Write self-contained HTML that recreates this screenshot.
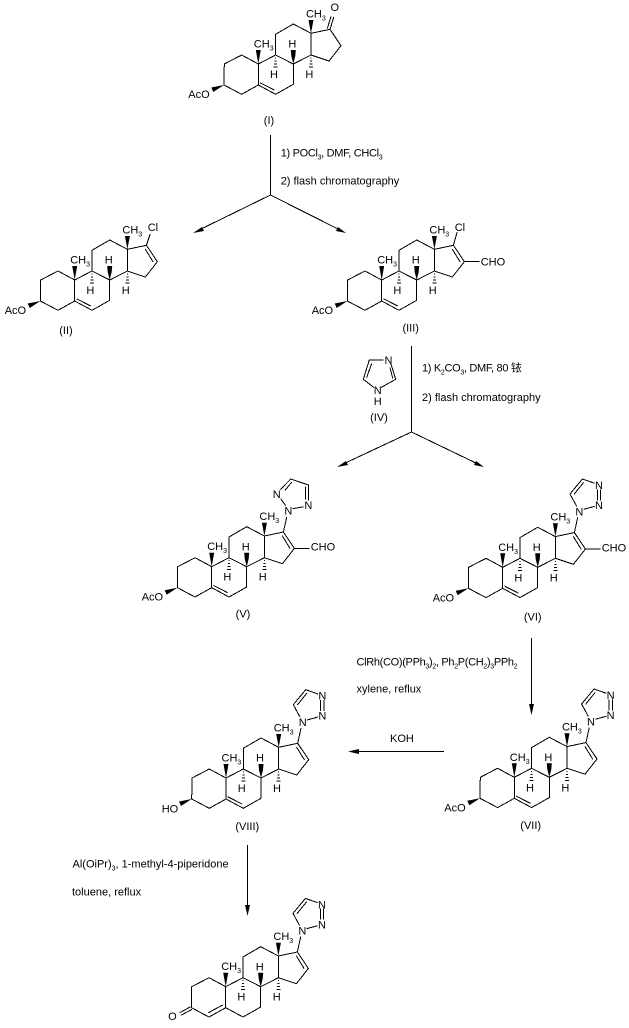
<!DOCTYPE html>
<html><head><meta charset="utf-8"><style>
html,body{margin:0;padding:0;background:#fff}
svg{display:block}
text{font-family:"Liberation Sans","Noto Sans CJK SC",sans-serif;font-size:11px;fill:#000;stroke:none}
.s{font-size:7px}
.m{text-anchor:middle}
.t{letter-spacing:-.32px}
.l{fill:none;stroke:#000;stroke-width:1;shape-rendering:crispEdges}
</style></head><body>
<svg xmlns="http://www.w3.org/2000/svg" width="629" height="1028" viewBox="0 0 629 1028">
<rect width="629" height="1028" fill="#fff"/>
<defs>
<g id="sk">
<path class="l" d="M-34.3,21L-34,0L-16.7,-9L0,0L0,21L-16.7,30.3Z M0,21L17.3,30.3L35,20.3L35,0L17.3,-9L0,0 M17.3,-9L17.3,-29.7L35,-40L52.7,-30.7L52.7,-9L35,0 M52.7,-30.7L71.7,-34.7L82.7,-18.3L70.7,-3L52.7,-9"/>
<path d="M0,0L-2.5,-14L2.5,-14Z M52.7,-30.7L50.2,-44L55.2,-44Z M35,0L33,-8L32.5,-14L37.5,-14L37,-8Z"/>
<path class="l" d="M16.8,-6H17.8 M16.3,-3H18.3 M15.8,0H18.8 M15.3,3H19.3 M52.2,-6H53.2 M51.7,-3H53.7 M51.2,0H54.2 M50.7,3H54.7"/>
</g>
<g id="db"><path class="l" d="M1.7,18.7L16,26"/></g>
<path id="oac" d="M-34.3,21L-47,23.5L-45,28Z"/>
<path id="d17" class="l" d="M70.5,-31L78.5,-18"/>
</defs>

<!-- arrows -->
<path class="l" d="M270.5,135V195L197,231 M270.5,195L342,231 M411.5,346V432L341,465 M411.5,432L480,465 M531.5,638V706 M444,751.5H356 M247.5,845V906"/>
<path d="M193,233L202,227L204,231Z M346,233L336,231L338,227Z M337,467L346,461L348,465Z M484,467L474,465L476,461Z M531.5,715L529,704L534,704Z M348,751.5L359,749V754Z M247.5,916L245,905L250,905Z"/>

<!-- I -->
<g transform="translate(258.3,64)">
<use href="#sk"/><use href="#db"/><use href="#oac"/>
<path class="l" d="M71.7,-34.7L75.5,-47 M69,-35.5L72.7,-47.5"/>
<text x="-4.5" y="-16.5">CH<tspan class="s" dy="3">3</tspan></text>
<text x="47.7" y="-46.7">CH<tspan class="s" dy="3">3</tspan></text>
<text class="m" x="34" y="-16.3">H</text><text class="m" x="15.7" y="14">H</text><text class="m" x="51" y="14">H</text>
<text x="-70" y="34">AcO</text>
<text class="m" x="76.5" y="-53">O</text>
</g>
<text class="m" x="269" y="124">(I)</text>

<!-- II -->
<g transform="translate(74.7,280)">
<use href="#sk"/><use href="#db"/><use href="#oac"/><use href="#d17"/>
<path class="l" d="M71.7,-34.7L75.5,-46"/>
<text x="-4.5" y="-16.5">CH<tspan class="s" dy="3">3</tspan></text>
<text x="47.7" y="-46.7">CH<tspan class="s" dy="3">3</tspan></text>
<text class="m" x="34" y="-16.3">H</text><text class="m" x="15.7" y="14">H</text><text class="m" x="51" y="14">H</text>
<text x="-70" y="34">AcO</text>
<text x="73" y="-49">Cl</text>
</g>
<text class="m" x="66" y="334">(II)</text>

<!-- III -->
<g transform="translate(381.7,280)">
<use href="#sk"/><use href="#db"/><use href="#oac"/><use href="#d17"/>
<path class="l" d="M71.7,-34.7L75.5,-48 M82.7,-18.3H98"/>
<text x="-4.5" y="-16.5">CH<tspan class="s" dy="3">3</tspan></text>
<text x="47.7" y="-46.7">CH<tspan class="s" dy="3">3</tspan></text>
<text class="m" x="34" y="-16.3">H</text><text class="m" x="15.7" y="14">H</text><text class="m" x="51" y="14">H</text>
<text x="-70" y="34">AcO</text>
<text x="73" y="-49">Cl</text>
<text x="99" y="-14.5">CHO</text>
</g>
<text class="m" x="410.7" y="331.7">(III)</text>

<!-- IV -->
<path class="l" d="M383.5,360H369.3L363.3,379.3L374,387.5 M381,387.5L395.7,379.3L391,364 M371.7,363.5L366.7,377.5 M390,367.5L392.7,378.5"/>
<text class="m" x="388.5" y="364">N</text><text class="m" x="377.7" y="394">N</text><text class="m" x="377.7" y="405">H</text>
<text class="m" x="379" y="421">(IV)</text>

<!-- text reagents -->
<text class="t" x="280.7" y="156.7">1) POCl<tspan class="s" dy="3">3</tspan><tspan dy="-3">, DMF, CHCl</tspan><tspan class="s" dy="3">3</tspan></text>
<text x="280.7" y="184.5">2) flash chromatography</text>
<text class="t" x="422" y="371.7">1) K<tspan class="s" dy="3">2</tspan><tspan dy="-3">CO</tspan><tspan class="s" dy="3">3</tspan><tspan dy="-3">, DMF, 80 铱</tspan></text>
<text x="422" y="401">2) flash chromatography</text>
<text class="t" x="356.5" y="665.7">ClRh(CO)(PPh<tspan class="s" dy="3">3</tspan><tspan dy="-3">)</tspan><tspan class="s" dy="3">2</tspan><tspan dy="-3">, Ph</tspan><tspan class="s" dy="3">2</tspan><tspan dy="-3">P(CH</tspan><tspan class="s" dy="3">2</tspan><tspan dy="-3">)</tspan><tspan class="s" dy="3">3</tspan><tspan dy="-3">PPh</tspan><tspan class="s" dy="3">2</tspan></text>
<text x="356.5" y="692.7">xylene, reflux</text>
<text x="390" y="742">KOH</text>
<text x="72.5" y="867.7">Al(OiPr)<tspan class="s" dy="3">3</tspan><tspan dy="-3">, 1-methyl-4-piperidone</tspan></text>
<text x="72" y="895.7">toluene, reflux</text>

<!-- V -->
<g transform="translate(211.7,566.7)">
<use href="#sk"/><use href="#db"/><use href="#oac"/><use href="#d17"/>
<path class="l" d="M82.7,-18.3H98 M71.7,-34.7L75,-49.5 M74,-61L69,-68 M68.5,-77L79,-87.7L96.7,-81.7V-66 M73,-76L80,-84.5 M94,-80V-67 M92,-60L81,-58"/>
<text x="-4.5" y="-16.5">CH<tspan class="s" dy="3">3</tspan></text>
<text x="47.7" y="-46.7">CH<tspan class="s" dy="3">3</tspan></text>
<text class="m" x="34" y="-16.3">H</text><text class="m" x="15.7" y="14">H</text><text class="m" x="51" y="14">H</text>
<text x="-70" y="34">AcO</text>
<text x="99" y="-16">CHO</text>
<text class="m" x="65" y="-68.7">N</text><text class="m" x="76.7" y="-52">N</text><text class="m" x="96.7" y="-57.7">N</text>
</g>
<text class="m" x="243" y="617.7">(V)</text>

<!-- VI -->
<g transform="translate(502.7,567.3)">
<use href="#sk"/><use href="#db"/><use href="#oac"/><use href="#d17"/>
<path class="l" d="M82.7,-18.3H98"/>
<g id="tz"><path class="l" d="M71.7,-34.7L75,-50 M74,-61L67.3,-73.3L79.7,-88.3L92,-84 M71.3,-73L81,-85 M94.7,-78V-67 M98,-78V-67 M92,-61L81,-58"/></g>
<text x="-4.5" y="-16.5">CH<tspan class="s" dy="3">3</tspan></text>
<text x="47.7" y="-46.7">CH<tspan class="s" dy="3">3</tspan></text>
<text class="m" x="34" y="-16.3">H</text><text class="m" x="15.7" y="14">H</text><text class="m" x="51" y="14">H</text>
<text x="-70" y="34">AcO</text>
<text x="99" y="-16">CHO</text>
<text class="m" x="76.7" y="-52">N</text><text class="m" x="96.3" y="-78.3">N</text><text class="m" x="96.3" y="-58.3">N</text>
</g>
<text class="m" x="532.7" y="620.7">(VI)</text>

<!-- VII -->
<g transform="translate(514.3,777.3)">
<use href="#sk"/><use href="#db"/><use href="#oac"/><use href="#d17"/><use href="#tz"/>
<text x="-4.5" y="-16.5">CH<tspan class="s" dy="3">3</tspan></text>
<text x="47.7" y="-46.7">CH<tspan class="s" dy="3">3</tspan></text>
<text class="m" x="34" y="-16.3">H</text><text class="m" x="15.7" y="14">H</text><text class="m" x="51" y="14">H</text>
<text x="-70" y="34">AcO</text>
<text class="m" x="76.7" y="-52">N</text><text class="m" x="96.3" y="-78.3">N</text><text class="m" x="96.3" y="-58.3">N</text>
</g>
<text class="m" x="530.7" y="829">(VII)</text>

<!-- VIII -->
<g transform="translate(226,778)">
<use href="#sk"/><use href="#db"/><use href="#oac"/><use href="#d17"/><use href="#tz"/>
<text x="-4.5" y="-16.5">CH<tspan class="s" dy="3">3</tspan></text>
<text x="47.7" y="-46.7">CH<tspan class="s" dy="3">3</tspan></text>
<text class="m" x="34" y="-16.3">H</text><text class="m" x="15.7" y="14">H</text><text class="m" x="51" y="14">H</text>
<text x="-64.3" y="34.5">HO</text>
<text class="m" x="76.7" y="-52">N</text><text class="m" x="96.3" y="-78.3">N</text><text class="m" x="96.3" y="-58.3">N</text>
</g>
<text class="m" x="247.3" y="830">(VIII)</text>

<!-- IX -->
<g transform="translate(225.7,986.7)">
<use href="#sk"/><use href="#d17"/><use href="#tz"/>
<path class="l" d="M-17.3,26L-3,18.3 M-35,20L-46,26 M-33.5,22.5L-44.5,28.5"/>
<text x="-4.5" y="-16.5">CH<tspan class="s" dy="3">3</tspan></text>
<text x="47.7" y="-46.7">CH<tspan class="s" dy="3">3</tspan></text>
<text class="m" x="34" y="-16.3">H</text><text class="m" x="15.7" y="14">H</text><text class="m" x="51" y="14">H</text>
<text class="m" x="-53.3" y="33.5">O</text>
<text class="m" x="76.7" y="-52">N</text><text class="m" x="96.3" y="-78.3">N</text><text class="m" x="96.3" y="-58.3">N</text>
</g>
</svg>
</body></html>
